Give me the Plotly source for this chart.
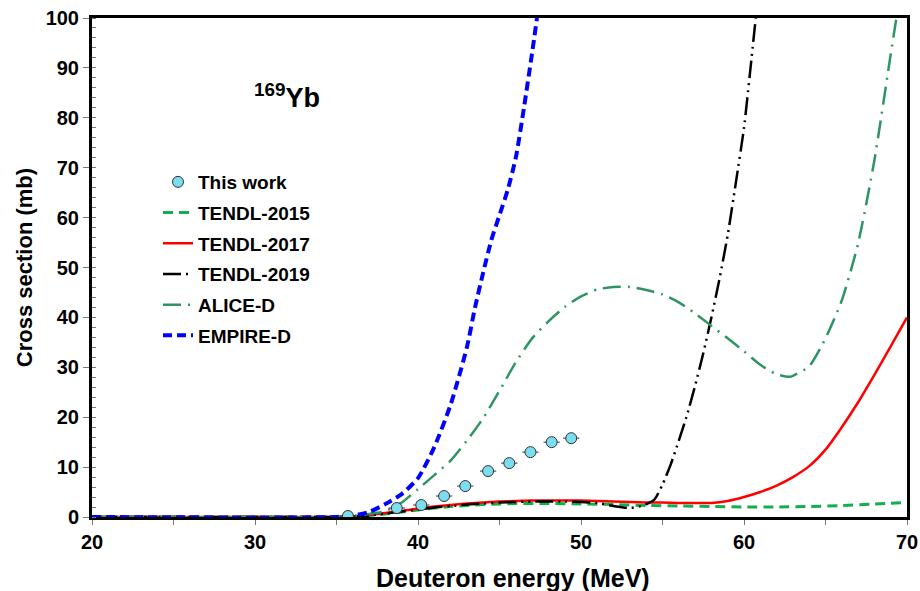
import plotly.graph_objects as go

# ---------------- data ----------------
exp_E = [35.7, 38.7, 40.2, 41.6, 42.9, 44.3, 45.6, 46.9, 48.2, 49.4]
exp_sigma = [0.2, 1.8, 2.4, 4.2, 6.2, 9.2, 10.8, 13.0, 15.0, 15.8]
exp_dE = [0.5, 0.5, 0.5, 0.5, 0.5, 0.5, 0.5, 0.5, 0.5, 0.5]

t2015_E = [20, 35, 36, 37, 38, 39, 40, 41, 42, 43, 44, 45, 46, 48, 50, 52, 54, 56, 58, 60, 62, 64, 66, 68, 70]
t2015_s = [0, 0, 0.05, 0.3, 0.6, 1.0, 1.4, 1.8, 2.1, 2.3, 2.5, 2.6, 2.7, 2.7, 2.6, 2.5, 2.3, 2.2, 2.1, 2.0, 2.0, 2.1, 2.3, 2.6, 2.9]

t2017_E = [20, 35, 36, 37, 38, 39, 40, 41, 42, 43, 44, 45, 46, 47, 48, 49, 50, 51, 52, 53, 54, 55, 56, 57, 58,
           59, 60, 61, 62, 63, 64, 65, 66, 67, 68, 69, 70]
t2017_s = [0, 0, 0.1, 0.4, 0.8, 1.2, 1.7, 2.1, 2.4, 2.7, 2.9, 3.1, 3.2, 3.3, 3.3, 3.3, 3.3, 3.2, 3.1, 3.0, 2.9,
           2.9, 2.8, 2.8, 2.8, 3.2, 4.0, 5.0, 6.3, 8.0, 10.2, 13.5, 18.0, 23.0, 28.5, 34.2, 40.0]

t2019_E = [20, 35, 36, 37, 38, 39, 40, 41, 42, 43, 44, 45, 46, 47, 48, 49, 50, 51, 52, 53, 53.8, 54.5, 55,
           55.5, 56, 56.5, 57, 57.5, 58, 58.5, 59, 59.5, 60, 60.4, 60.72]
t2019_s = [0, 0, 0.05, 0.3, 0.7, 1.1, 1.5, 1.9, 2.2, 2.5, 2.7, 2.9, 3.0, 3.1, 3.1, 3.1, 3.0, 2.8, 2.2, 1.8,
           2.3, 3.5, 6.5, 10.5, 15.3, 20.4, 26.3, 32.8, 40.0, 47.8, 56.5, 67.0, 78.0, 90.0, 100.0]

alice_E = [20, 35, 36, 37, 38, 39, 40, 41, 42, 43, 44, 45, 46, 47, 48, 49, 50, 51, 52, 53, 54, 55, 56, 57,
           58, 59, 60, 61, 62, 62.8, 63, 64, 65, 66, 67, 68, 69, 69.35]
alice_s = [0, 0, 0.2, 0.6, 1.2, 2.9, 5.6, 8.4, 11.3, 15.3, 19.8, 25.3, 31.0, 35.8, 39.2, 42.1, 44.2, 45.6,
           46.1, 46.1, 45.5, 44.6, 43.0, 40.8, 38.3, 35.8, 33.2, 30.5, 28.6, 28.1, 28.3, 30.2, 35.8, 43.4,
           54.8, 71.5, 92.7, 100.0]

empire_E = [20, 35, 36, 37, 38, 39, 40, 41, 42, 43, 43.5, 44, 44.5, 45, 45.5, 46, 46.5, 47, 47.3]
empire_s = [0, 0, 0.3, 1.0, 2.6, 4.6, 7.8, 14.0, 22.5, 34.0, 42.0, 49.0, 55.5, 60.5, 65.5, 72.0, 82.0, 93.0, 100.0]

x_ticks = [20, 30, 40, 50, 60, 70]
y_ticks = [0, 10, 20, 30, 40, 50, 60, 70, 80, 90, 100]

FONT = "Liberation Sans, Arial, sans-serif"

# plot area in pixels
L, R, T, B = 92, 13, 18, 74
PW, PH = 920 - L - R, 591 - T - B

fig = go.Figure()


def curve(x, y, name, color, dash, width, rank, smooth=0.6):
    fig.add_trace(go.Scatter(
        x=x, y=y, mode="lines", name=name, legendrank=rank,
        legendgroup=name,
        line=dict(color=color, dash=dash, width=width, shape="spline", smoothing=smooth),
    ))


curve(t2015_E, t2015_s, "TENDL-2015", "#12B04C", "10px,6px", 3, 2)
curve(t2017_E, t2017_s, "TENDL-2017", "#FF0000", "solid", 2.5, 3)
curve(t2019_E, t2019_s, "TENDL-2019", "#000000", "18px,5px,2px,5px,2px,5px", 2.5, 4)
curve(alice_E, alice_s, "ALICE-D", "#2E9462", "18px,7px,2px,7px", 2.5, 5)
curve(empire_E, empire_s, "EMPIRE-D", "#0000FF", "9px,5px", 4, 6)

fig.add_trace(go.Scatter(
    x=exp_E, y=exp_sigma, mode="markers", name="This work", legendrank=1,
    legendgroup="This work",
    marker=dict(size=11, color="#7CDCF0", line=dict(color="#333333", width=1)),
    error_x=dict(type="data", array=exp_dE, color="#333333", thickness=1, width=0),
))

fig.add_annotation(
    x=(287 - L) / PW, y=(591 - B - 96) / PH, xref="paper", yref="paper",
    xanchor="center", yanchor="middle",
    text="<sup>169</sup>Yb", showarrow=False,
    font=dict(family=FONT, size=27, color="#000000", weight="bold"),
)
# x-axis title (placed as annotation to match the reference position)
fig.add_annotation(
    x=(513 - L) / PW, y=(591 - B - 578) / PH, xref="paper", yref="paper",
    xanchor="center", yanchor="middle",
    text="Deuteron energy (MeV)", showarrow=False,
    font=dict(family=FONT, size=25, color="#000000", weight="bold"),
)

fig.update_layout(
    width=920, height=591,
    margin=dict(l=L, r=R, t=T, b=B, autoexpand=False),
    paper_bgcolor="white", plot_bgcolor="white",
    font=dict(family=FONT, color="#000000", weight="bold"),
    legend=dict(
        x=(158 - L) / PW, y=(591 - B - 163) / PH, xanchor="left", yanchor="top",
        bgcolor="rgba(0,0,0,0)", font=dict(size=19, family=FONT, weight="bold"),
        traceorder="grouped", tracegroupgap=3, itemwidth=30,
    ),
    showlegend=True,
)

fig.update_xaxes(
    range=[20, 70], tickvals=x_ticks, ticktext=[str(v) for v in x_ticks],
    showline=True, linecolor="#000000", linewidth=3, mirror=True,
    ticks="outside", ticklen=5, tickcolor="#777777", tickwidth=1,
    minor=dict(dtick=5, ticks="outside", ticklen=5, tickcolor="#777777", tickwidth=1),
    showgrid=False, zeroline=False, automargin=False,
    tickfont=dict(size=20, family=FONT, weight="bold"),
)
fig.update_yaxes(
    range=[0, 100], tickvals=y_ticks, ticktext=[str(v) for v in y_ticks],
    showline=True, linecolor="#000000", linewidth=3, mirror=True,
    ticks="outside", ticklen=6, tickcolor="#777777", tickwidth=1,
    minor=dict(dtick=2, ticks="inside", ticklen=4, tickcolor="#777777", tickwidth=1),
    showgrid=False, zeroline=False, automargin=False,
    tickfont=dict(size=20, family=FONT, weight="bold"),
    title=dict(text="Cross section (mb)", font=dict(size=22, family=FONT, weight="bold"), standoff=7),
)

fig.write_html("out.html")
